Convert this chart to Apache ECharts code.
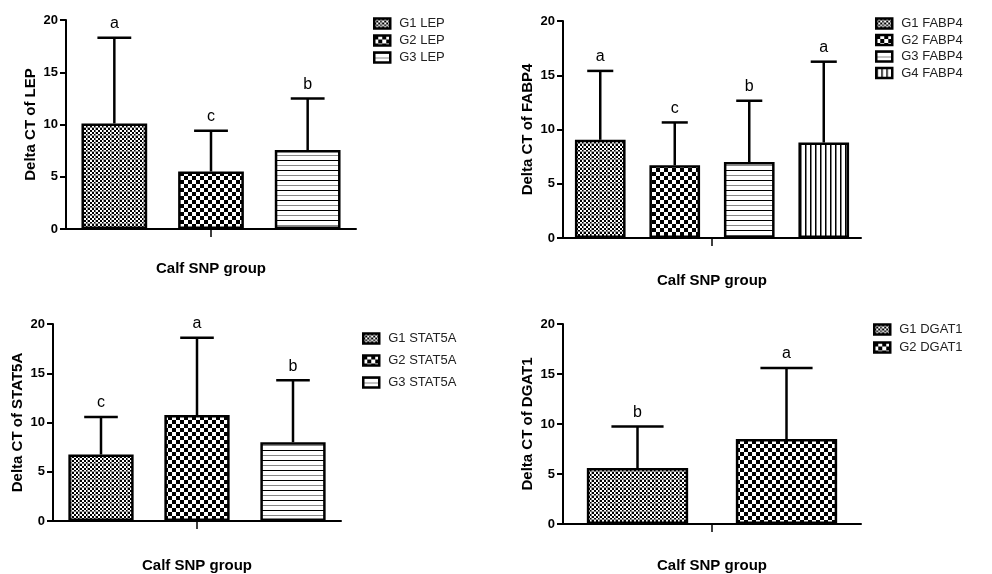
<!DOCTYPE html>
<html><head><meta charset="utf-8">
<script src="https://cdn.jsdelivr.net/npm/echarts@6/dist/echarts.min.js"></script>
<style>html,body{margin:0;padding:0;background:#fff}#c{width:992px;height:574px}</style>
</head><body><div id="c"></div>
<script>
// ---------- data ----------
const xTitle = 'Calf SNP group';
const yTicks = [0, 5, 10, 15, 20];

const lepNames = ['G1 LEP', 'G2 LEP', 'G3 LEP'];
const lepMean = [10.1, 5.5, 7.55];
const lepSD = [8.2, 3.9, 4.95];
const lepLetters = ['a', 'c', 'b'];

const fabpNames = ['G1 FABP4', 'G2 FABP4', 'G3 FABP4', 'G4 FABP4'];
const fabpMean = [9.05, 6.7, 7.0, 8.8];
const fabpSD = [6.35, 3.95, 5.65, 7.45];
const fabpLetters = ['a', 'c', 'b', 'a'];

const statNames = ['G1 STAT5A', 'G2 STAT5A', 'G3 STAT5A'];
const statMean = [6.75, 10.75, 8.0];
const statSD = [3.8, 7.85, 6.3];
const statLetters = ['c', 'a', 'b'];

const dgatNames = ['G1 DGAT1', 'G2 DGAT1'];
const dgatMean = [5.6, 8.5];
const dgatSD = [4.15, 7.1];
const dgatLetters = ['b', 'a'];

// ---------- patterns ----------
function pat(kind) {
  const c = document.createElement('canvas');
  const g = c.getContext('2d');
  if (kind === 'fine') {
    c.width = 8; c.height = 8;
    g.fillStyle = '#fff'; g.fillRect(0, 0, 8, 8);
    g.fillStyle = '#000';
    for (let y = 0; y < 8; y += 2) for (let x = 0; x < 8; x += 2)
      if (((x + y) / 2) % 2 === 0) g.fillRect(x, y, 2, 2);
    g.fillStyle = 'rgba(140,140,140,0.8)';
    g.fillRect(7, 0, 1, 8); g.fillRect(0, 7, 8, 1);
  } else if (kind === 'coarse') {
    c.width = 8; c.height = 8;
    g.fillStyle = '#fff'; g.fillRect(0, 0, 8, 8);
    g.fillStyle = '#000';
    g.fillRect(0, 0, 4, 4); g.fillRect(4, 4, 4, 4);
  } else if (kind === 'hline') {
    c.width = 4; c.height = 10;
    g.fillStyle = '#fff'; g.fillRect(0, 0, 4, 10);
    g.fillStyle = '#000'; g.fillRect(0, 0, 4, 1);
    g.fillStyle = '#888'; g.fillRect(0, 5, 4, 1);
  } else {
    c.width = 5; c.height = 4;
    g.fillStyle = '#fff'; g.fillRect(0, 0, 5, 4);
    g.fillStyle = '#000'; g.fillRect(0, 0, 1.5, 4);
  }
  return { image: c, repeat: 'repeat' };
}
const pats = [pat('fine'), pat('coarse'), pat('hline'), pat('vline')];

// ---------- layout ----------
const FONT = 'Liberation Sans, Arial, sans-serif';
const panels = [
  { names: lepNames, mean: lepMean, sd: lepSD, letters: lepLetters, ytitle: 'Delta CT of LEP', xgap: 32,
    grid: { left: 66, top: 20, width: 290, height: 209 }, legend: { left: 368, top: 12, gap: 4 } },
  { names: fabpNames, mean: fabpMean, sd: fabpSD, letters: fabpLetters, ytitle: 'Delta CT of FABP4', xgap: 35,
    grid: { left: 563, top: 21, width: 298, height: 217 }, legend: { left: 870, top: 12, gap: 3.5 } },
  { names: statNames, mean: statMean, sd: statSD, letters: statLetters, ytitle: 'Delta CT of STAT5A', xgap: 37,
    grid: { left: 53, top: 324, width: 288, height: 200 }, legend: { left: 357, top: 327, gap: 9 } },
  { names: dgatNames, mean: dgatMean, sd: dgatSD, letters: dgatLetters, ytitle: 'Delta CT of DGAT1', xgap: 34,
    grid: { left: 563, top: 324, width: 298, height: 200 }, legend: { left: 868, top: 318, gap: 5 } }
];

const grid = [], xAxis = [], yAxis = [], series = [], legend = [];
panels.forEach((p, k) => {
  grid.push(Object.assign({ containLabel: false }, p.grid));
  xAxis.push({
    type: 'category', gridIndex: k, data: p.names, position: 'bottom',
    axisLine: { show: true, lineStyle: { color: '#000', width: 2 } },
    axisTick: { show: false }, axisLabel: { show: false }, splitLine: { show: false }
  });
  yAxis.push({
    type: 'value', gridIndex: k, min: yTicks[0], max: yTicks[yTicks.length - 1], interval: yTicks[1] - yTicks[0],
    axisLine: { show: true, lineStyle: { color: '#000', width: 2 } },
    axisTick: { show: true, length: 6, lineStyle: { color: '#000', width: 2 } },
    axisLabel: { color: '#000', fontFamily: FONT, fontWeight: 'bold', fontSize: 13, margin: 8 },
    splitLine: { show: false },
    name: p.ytitle, nameLocation: 'middle', nameGap: 28, nameRotate: 90,
    nameTextStyle: { color: '#000', fontFamily: FONT, fontWeight: 'bold', fontSize: 15 }
  });
  legend.push({
    data: p.names, orient: 'vertical', left: p.legend.left, top: p.legend.top,
    itemWidth: 16, itemHeight: 10, itemGap: p.legend.gap, selectedMode: false,
    icon: 'rect',
    itemStyle: { borderColor: '#000', borderWidth: 2.5 },
    textStyle: { color: '#222', fontFamily: FONT, fontSize: 13, lineHeight: 13, padding: [0, 0, 0, 4] }
  });
});
panels.forEach((p, k) => {
  xAxis.push({
    type: 'category', gridIndex: k, data: [''], position: 'bottom',
    axisLine: { show: false },
    axisTick: { show: true, alignWithLabel: true, length: 8, lineStyle: { color: '#000', width: 1.5 } },
    axisLabel: { show: false },
    name: xTitle, nameLocation: 'middle', nameGap: p.xgap,
    nameTextStyle: { color: '#000', fontFamily: FONT, fontWeight: 'bold', fontSize: 15 }
  });
});

panels.forEach((p, k) => {
  p.names.forEach((nm, i) => {
    series.push({
      type: 'bar', name: nm, xAxisIndex: k, yAxisIndex: k,
      data: p.mean.map((v, j) => (j === i ? v : '-')),
      barWidth: '68%', barGap: '-100%',
      itemStyle: { color: pats[i], borderColor: '#000', borderWidth: 2.5 },
      silent: true, z: 2
    });
  });
  series.push({
    type: 'custom', xAxisIndex: k, yAxisIndex: k, z: 3, silent: true,
    data: p.mean.map((v, i) => [i, v, p.sd[i]]),
    renderItem: function (params, api) {
      const x = api.value(0), m = api.value(1), s = api.value(2);
      const p0 = api.coord([x, m]);
      const p1 = api.coord([x, m + s]);
      const band = api.size([1, 0])[0];
      const hw = band * 0.175;
      return {
        type: 'group', children: [
          { type: 'line', shape: { x1: p0[0], y1: p0[1], x2: p1[0], y2: p1[1] }, style: { stroke: '#000', lineWidth: 2.5 } },
          { type: 'line', shape: { x1: p1[0] - hw, y1: p1[1], x2: p1[0] + hw, y2: p1[1] }, style: { stroke: '#000', lineWidth: 2.5 } },
          { type: 'text', style: { text: p.letters[params.dataIndex], x: p1[0], y: p1[1] - 6, align: 'center', verticalAlign: 'bottom', font: '16px ' + FONT, fill: '#000' } }
        ]
      };
    }
  });
});

const chart = echarts.init(document.getElementById('c'), null, { renderer: 'canvas' });
chart.setOption({
  animation: false, backgroundColor: '#fff',
  grid, xAxis, yAxis, legend, series
});
</script></body></html>
